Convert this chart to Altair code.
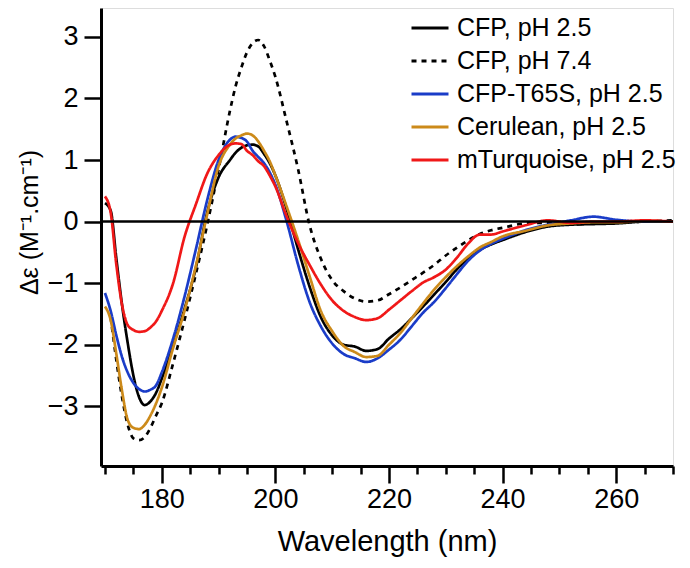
import altair as alt
import pandas as pd

wavelength = [170, 171, 172, 173, 174, 175, 176, 177, 178, 179, 180, 182, 184, 186, 188, 190,
              192, 193, 194, 195, 196, 197, 198, 199, 200, 202, 204, 206, 208, 210, 212, 214, 216,
              218, 220, 222, 224, 226, 228, 230, 232, 234, 236, 238, 240, 244, 248, 252,
              256, 260, 265, 270]

cfp_ph25 = [0.30, 0.18, -0.60, -1.35, -1.97, -2.50, -2.85, -2.98, -2.92, -2.78, -2.55, -2.02, -1.42, -0.75, 0.15, 0.72,
            1.00, 1.12, 1.20, 1.24, 1.25, 1.22, 1.10, 0.95, 0.75, 0.20, -0.45, -1.05, -1.55, -1.85, -2.00, -2.03, -2.10,
            -2.07, -1.90, -1.75, -1.57, -1.38, -1.18, -0.98, -0.77, -0.60, -0.46, -0.37, -0.30, -0.17, -0.08, -0.05,
            -0.04, -0.03, 0.00, 0.00]

cfp_ph74 = [None, -1.55, -2.25, -2.85, -3.30, -3.52, -3.55, -3.50, -3.35, -3.15, -2.95, -2.30, -1.60, -0.85, -0.05, 0.85,
            1.80, 2.20, 2.50, 2.75, 2.90, 2.95, 2.85, 2.62, 2.35, 1.62, 0.85, -0.05, -0.60, -0.95, -1.13, -1.25, -1.30,
            -1.28, -1.18, -1.07, -0.95, -0.83, -0.70, -0.55, -0.42, -0.30, -0.20, -0.14, -0.10, -0.03, -0.02, -0.05,
            -0.02, -0.01, 0.00, 0.02]

cfp_t65s_ph25 = [-1.16, -1.45, -1.85, -2.20, -2.45, -2.62, -2.72, -2.76, -2.73, -2.66, -2.45, -1.90, -1.22, -0.45, 0.35, 1.00,
                 1.33, 1.38, 1.36, 1.30, 1.15, 1.05, 0.95, 0.80, 0.60, 0.00, -0.70, -1.30, -1.70, -1.98, -2.15, -2.22, -2.28,
                 -2.22, -2.08, -1.92, -1.70, -1.48, -1.30, -1.08, -0.85, -0.63, -0.47, -0.36, -0.28, -0.14, -0.05, 0.02,
                 0.08, 0.03, 0.00, 0.00]

cerulean_ph25 = [-1.38, -1.60, -2.15, -2.75, -3.22, -3.35, -3.37, -3.30, -3.15, -2.95, -2.70, -2.05, -1.45, -0.72, 0.12, 0.90,
                 1.25, 1.35, 1.40, 1.43, 1.40, 1.30, 1.15, 0.98, 0.75, 0.24, -0.30, -0.88, -1.45, -1.78, -2.02, -2.12, -2.20,
                 -2.18, -2.00, -1.81, -1.57, -1.33, -1.10, -0.90, -0.72, -0.56, -0.42, -0.33, -0.24, -0.15, -0.06, -0.03,
                 -0.01, -0.01, 0.01, 0.00]

mturquoise_ph25 = [0.41, 0.15, -0.70, -1.35, -1.68, -1.76, -1.79, -1.78, -1.72, -1.62, -1.45, -1.00, -0.25, 0.28, 0.78, 1.08,
                   1.25, 1.27, 1.26, 1.15, 1.08, 0.98, 0.90, 0.75, 0.57, 0.08, -0.35, -0.70, -1.02, -1.28, -1.45, -1.55, -1.60,
                   -1.57, -1.43, -1.28, -1.13, -0.99, -0.90, -0.78, -0.58, -0.35, -0.21, -0.21, -0.16, -0.06, 0.02, -0.02,
                   0.00, 0.00, 0.02, 0.00]

series_names = ["CFP, pH 2.5", "CFP, pH 7.4", "CFP-T65S, pH 2.5", "Cerulean, pH 2.5", "mTurquoise, pH 2.5"]
series_values = [cfp_ph25, cfp_ph74, cfp_t65s_ph25, cerulean_ph25, mturquoise_ph25]
series_colors = ["#000000", "#000000", "#1a3cc8", "#cc8a1a", "#f01818"]
series_dash = [[1, 0], [5, 5], [1, 0], [1, 0], [1, 0]]

x_ticks = list(range(170, 271, 5))
y_ticks = [-3, -2, -1, 0, 1, 2, 3]

rows = []
for i, (name, vals) in enumerate(zip(series_names, series_values)):
    for w, v in zip(wavelength, vals):
        rows.append({"wavelength": w, "value": v, "series": name, "idx": i})
df = pd.DataFrame(rows)

FONT = "Liberation Sans"

x_enc = alt.X(
    "wavelength:Q",
    scale=alt.Scale(domain=[169.3, 270], nice=False, zero=False),
    axis=alt.Axis(
        title="Wavelength (nm)",
        values=x_ticks,
        format="d",
        labelExpr="datum.value % 20 === 0 ? datum.label : ''",
        tickSize={"condition": {"test": "datum.value % 20 === 0", "value": 17}, "value": 8},
        tickWidth=2.5, tickColor="black",
        domainWidth=3, domainColor="black",
        labelFont=FONT, labelFontSize=27, labelColor="black", labelPadding=3,
        labelOverlap=False, labelFlush=False,
        titleFont=FONT, titleFontSize=29, titleFontWeight="normal", titleColor="black",
        titlePadding=15, grid=False,
    ),
)
y_enc = alt.Y(
    "value:Q",
    scale=alt.Scale(domain=[-3.97, 3.47], nice=False, zero=False),
    axis=alt.Axis(
        title="Δε (M⁻¹.cm⁻¹)",
        values=y_ticks,
        format="d",
        tickSize=17, tickWidth=2.5, tickColor="black",
        domainWidth=3, domainColor="black",
        labelFont=FONT, labelFontSize=27, labelColor="black", labelPadding=6,
        labelOverlap=False, labelFlush=False,
        titleFont=FONT, titleFontSize=25, titleFontWeight="normal", titleColor="black",
        titlePadding=5, titleY=214, grid=False,
    ),
)

legend = alt.Legend(
    title=None, orient="none", legendX=309, legendY=0,
    labelFont=FONT, labelFontSize=25, labelColor="black", labelLimit=0,
    symbolType="stroke", symbolSize=1369, symbolStrokeWidth=3,
    rowPadding=-6, labelOffset=7, padding=0,
)

zero = alt.Chart(pd.DataFrame({"zero": [0]})).mark_rule(color="black", strokeWidth=2.5).encode(
    y=alt.Y("zero:Q")
)

lines = alt.Chart(df).mark_line(strokeWidth=2.7, interpolate="monotone").encode(
    x=x_enc,
    y=y_enc,
    color=alt.Color("series:N", scale=alt.Scale(domain=series_names, range=series_colors), legend=legend),
    strokeDash=alt.StrokeDash("series:N", scale=alt.Scale(domain=series_names, range=series_dash), legend=legend),
    order=alt.Order("idx:Q"),
)

chart = alt.layer(lines, zero).properties(
    width=572, height=458,
    autosize=alt.AutoSizeParams(type="none"),
    padding={"left": 93, "top": 0, "right": 7, "bottom": 92},
).configure_view(stroke=None).configure(background="white")

chart.save("out.html", embed_options={"renderer": "svg", "actions": False})
